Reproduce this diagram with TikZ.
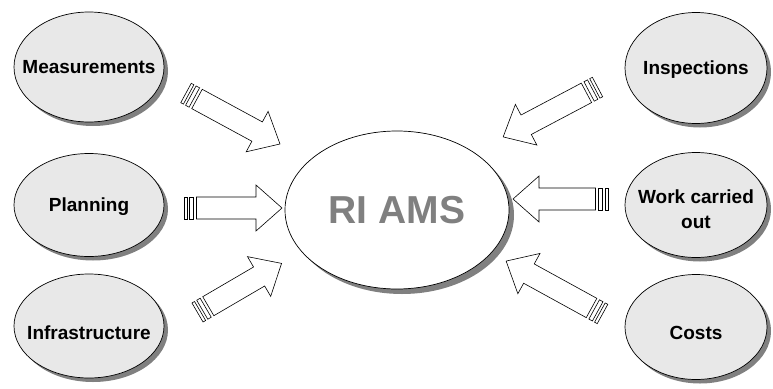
\documentclass[tikz,border=0pt]{standalone}
\usepackage{fontspec}
\setmainfont{Liberation Sans}
\usetikzlibrary{shapes.geometric,shadows,calc}
\definecolor{cBub}{RGB}{232,232,232}
\definecolor{cShd}{RGB}{128,128,128}

% striped block arrow from coordinate #1 (tail) to coordinate #2 (tip)
\newcommand{\stripearrow}[2]{%
  \pgfpointdiff{\pgfpointanchor{#1}{center}}{\pgfpointanchor{#2}{center}}%
  \pgfgetlastxy{\arrdx}{\arrdy}%
  \pgfmathsetmacro{\arrlen}{veclen(\arrdx,\arrdy)}%
  \pgfmathsetmacro{\arrang}{atan2(\arrdy,\arrdx)}%
  \begin{scope}[shift={(#1)}, rotate=\arrang]
    \draw[blk] (0,-11) rectangle (3,11);
    \draw[blk] (5.5,-11) rectangle (9.5,11);
    \draw[blk] (12.5,-11) -- (\arrlen-26,-11) -- (\arrlen-26,-23)
               -- (\arrlen,0) -- (\arrlen-26,23) -- (\arrlen-26,11)
               -- (12.5,11) -- cycle;
  \end{scope}}

\begin{document}
\begin{tikzpicture}[
  x=1pt, y=-1pt,
  bubble/.style = {draw, ellipse, fill=cBub, line width=0.7pt, inner sep=0pt,
                   minimum width=150, minimum height=106,
                   drop shadow={shadow xshift=4pt, shadow yshift=-4pt,
                                fill=cShd, opacity=1}},
  hub/.style    = {draw, ellipse, fill=white, line width=0.7pt, inner sep=0pt,
                   minimum width=224, minimum height=158, text=cShd,
                   font=\fontsize{39}{44}\selectfont\bfseries,
                   drop shadow={shadow xshift=5pt, shadow yshift=-5pt,
                                fill=cShd, opacity=1}},
  lbl/.style    = {font=\fontsize{19}{25}\selectfont\bfseries, align=center,
                   text height=13.6pt, text depth=0pt, inner sep=0pt},
  blk/.style    = {draw, fill=white, line width=0.6pt, line join=miter}
]
\useasboundingbox (0,0) rectangle (773,388);

% ------------------------------------------------------------- the hub --
\node[hub] (ams) at (397,210) {RI AMS};

% ------------------------------------------------------------ left side --
\node[bubble, minimum height=110,
      label={[lbl]center:Measurements}]               (meas)  at (89,67)  {};
\node[bubble, minimum height=103,
      label={[lbl]center:Planning}]                   (plan)  at (89,205) {};
\node[bubble, minimum height=104,
      label={[lbl, yshift=-7pt]center:Infrastructure}] (infra) at (89,326) {};

% ----------------------------------------------------------- right side --
\node[bubble, minimum width=142, minimum height=111,
      label={[lbl]center:Inspections}]                (insp)  at (696,68)  {};
\node[bubble, minimum width=142, minimum height=105,
      label={[lbl, text height=, text depth=, yshift=-4.5pt]center:Work carried\\out}] (work) at (696,205) {};
\node[bubble, minimum width=142, minimum height=105,
      label={[lbl, yshift=-6pt]center:Costs}]          (cost)  at (696,327) {};

% --------------------------------------------------------------- arrows --
\coordinate (t1) at (186,93);    \coordinate (h1) at (280,144);
\coordinate (t2) at (184,208);   \coordinate (h2) at (282,208);
\coordinate (t3) at (197.5,312.5); \coordinate (h3) at (281.7,263.3);
\coordinate (t4) at (597.5,87);  \coordinate (h4) at (503,137);
\coordinate (t5) at (608,199);   \coordinate (h5) at (513,199);
\coordinate (t6) at (602.5,314); \coordinate (h6) at (506,261);

\stripearrow{t1}{h1}
\stripearrow{t2}{h2}
\stripearrow{t3}{h3}
\stripearrow{t4}{h4}
\stripearrow{t5}{h5}
\stripearrow{t6}{h6}

\end{tikzpicture}
\end{document}
